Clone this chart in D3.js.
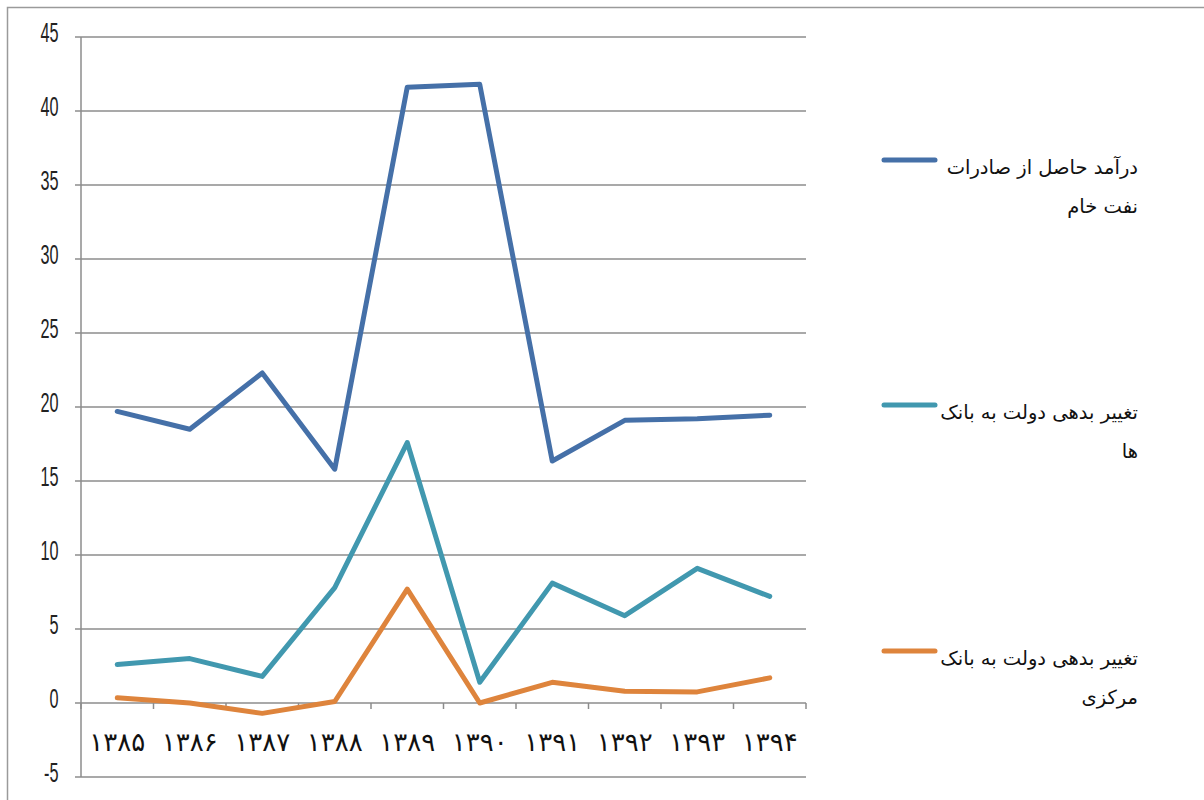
<!DOCTYPE html>
<html><head><meta charset="utf-8">
<script src="https://cdn.jsdelivr.net/npm/d3@7"></script>
<style>body{margin:0;background:#fff}</style>
</head><body>
<svg id="c" width="1204" height="800"></svg>
<script>
const years = ["۱۳۸۵","۱۳۸۶","۱۳۸۷","۱۳۸۸","۱۳۸۹","۱۳۹۰","۱۳۹۱","۱۳۹۲","۱۳۹۳","۱۳۹۴"];
const oilRevenue = [19.7, 18.5, 22.3, 15.8, 41.6, 41.8, 16.35, 19.1, 19.2, 19.45];
const debtToBanks = [2.6, 3.0, 1.8, 7.8, 17.6, 1.4, 8.1, 5.9, 9.1, 7.2];
const debtToCentral = [0.35, 0.0, -0.7, 0.1, 7.7, 0.0, 1.4, 0.8, 0.75, 1.7];
const yTicks = [-5, 0, 5, 10, 15, 20, 25, 30, 35, 40, 45];
const seriesNames = [
  ["درآمد حاصل از صادرات", "نفت خام"],
  ["تغییر بدهی دولت به بانک", "ها"],
  ["تغییر بدهی دولت به بانک", "مرکزی"]
];
const colors = ["#4570A8", "#4198AF", "#DE843C"];
const series = [oilRevenue, debtToBanks, debtToCentral];

const svg = d3.select("#c");
svg.append("rect").attr("x",7.5).attr("y",7.5).attr("width",1200).attr("height",800)
  .attr("fill","none").attr("stroke","#9a9a9a").attr("stroke-width",1.5);

const x = d3.scaleBand().domain(years).range([81, 806]);
const y = d3.scaleLinear().domain([-5, 45]).range([777, 37]);

// gridlines
svg.append("g").selectAll("line").data(yTicks).join("line")
  .attr("x1",75).attr("x2",806).attr("y1",d=>y(d)).attr("y2",d=>y(d))
  .attr("stroke","#8c8c8c").attr("stroke-width",1.5);
// y axis line
svg.append("line").attr("x1",81).attr("x2",81).attr("y1",y(45)).attr("y2",y(-5))
  .attr("stroke","#8c8c8c").attr("stroke-width",1.5);
// y labels (condensed)
svg.append("g").selectAll("text").data(yTicks).join("text")
  .attr("x",0).attr("y",0).attr("text-anchor","end")
  .attr("transform", d=>`translate(58.5,${y(d)+4.5}) scale(0.58,1)`)
  .attr("font-family","'Liberation Sans', sans-serif")
  .attr("font-size",28).attr("fill","#222")
  .text(d=>d);

// x-axis ticks at band boundaries (at y=0)
const bounds = years.map(d=>x(d)).concat([x.range()[1]]);
svg.append("g").selectAll("line").data(bounds).join("line")
  .attr("x1",d=>d).attr("x2",d=>d).attr("y1",y(0)).attr("y2",y(0)+6)
  .attr("stroke","#8c8c8c").attr("stroke-width",1.5);
// x labels
svg.append("g").selectAll("text").data(years).join("text")
  .attr("x",d=>x(d)+x.bandwidth()/2).attr("y",751).attr("text-anchor","middle")
  .attr("font-family","'DejaVu Sans', sans-serif").attr("font-size",26).attr("fill","#111")
  .text(d=>d);

// lines
const line = d3.line().x((d,i)=>x(years[i])+x.bandwidth()/2).y(d=>y(d));
series.forEach((s,i)=>{
  svg.append("path").datum(s).attr("d",line).attr("fill","none")
    .attr("stroke",colors[i]).attr("stroke-width",5).attr("stroke-linejoin","round").attr("stroke-linecap","round");
});

// legend
const legY = [160, 405, 651];
seriesNames.forEach((nm,i)=>{
  const g = svg.append("g");
  g.append("line").attr("x1",884).attr("x2",935).attr("y1",legY[i]).attr("y2",legY[i])
    .attr("stroke",colors[i]).attr("stroke-width",5).attr("stroke-linecap","round");
  nm.forEach((t,j)=>{
    g.append("text").attr("x",1138).attr("y",legY[i]+14+j*39).attr("text-anchor","end")
      .attr("font-family","'DejaVu Sans', sans-serif").attr("font-size",19.5).attr("fill","#111")
      .text(t);
  });
});
</script>
</body></html>
